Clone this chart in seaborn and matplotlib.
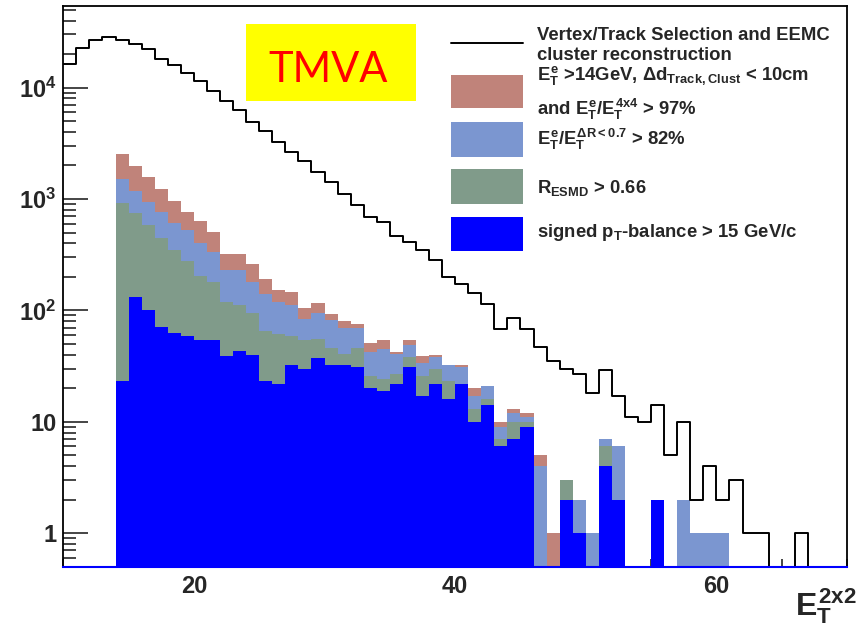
import numpy as np
import pandas as pd
import matplotlib
matplotlib.use("Agg")
import matplotlib.pyplot as plt
import seaborn as sns
from matplotlib.patches import Rectangle
from matplotlib.lines import Line2D
from matplotlib.ticker import FixedLocator, FuncFormatter, LogLocator, MultipleLocator, NullFormatter

# ---- data: 1 GeV bins from 10 to 70 GeV ----
bin_edges = list(range(10, 71))

# Vertex/Track selection and EEMC cluster reconstruction (bins 10..69)
n_all = [16400, 22600, 26500, 28400, 26900, 24800, 22100, 18200, 15800, 13400,
         11500, 9270, 7590, 6270, 4910, 4080, 3250, 2650, 2200, 1750,
         1410, 1110, 880, 688, 620, 470, 412, 347, 283, 200,
         172, 144, 115, 68, 86, 68, 47, 35, 30, 27,
         18, 29, 17, 11, 10, 14, 5, 10, 2, 4,
         2, 3, 1, 1, 0, 0, 1, 0, 0, 0]

# E_T^e > 14 GeV, track-cluster matching and 4x4 isolation
n_iso4x4 = [0, 0, 0, 0, 2520, 1970, 1580, 1220, 955, 766,
            632, 507, 324, 324, 260, 191, 152, 147, 104, 116,
            93, 81, 76, 51, 54, 42, 54, 39, 40, 32,
            32, 20, 21, 10, 13, 12, 5, 1, 3, 2,
            1, 7, 6, 0, 0, 2, 0, 2, 1, 1,
            1, 0, 0, 0, 0, 0, 0, 0, 0, 0]

# cone isolation E_T^e / E_T^{dR<0.7} > 82%
n_cone = [0, 0, 0, 0, 1496, 1183, 942, 766, 603, 525,
          399, 336, 230, 230, 178, 139, 119, 112, 84, 94,
          82, 69, 69, 42, 45, 41, 49, 34, 38, 32,
          31, 17, 21, 9, 12, 11, 4, 0, 3, 2,
          1, 7, 6, 0, 0, 2, 0, 2, 1, 1,
          1, 0, 0, 0, 0, 0, 0, 0, 0, 0]

# R_ESMD > 0.66
n_esmd = [0, 0, 0, 0, 922, 741, 582, 448, 347, 279,
          204, 178, 118, 112, 95, 65, 62, 59, 54, 55,
          46, 41, 46, 26, 24, 27, 38, 26, 30, 23,
          22, 13, 16, 7, 10, 10, 0, 0, 3, 1,
          0, 6, 2, 0, 0, 2, 0, 0, 0, 0,
          0, 0, 0, 0, 0, 0, 0, 0, 0, 0]

# signed pT-balance > 15 GeV/c
n_ptbal = [0, 0, 0, 0, 23, 131, 101, 71, 63, 59,
           54, 54, 39, 43, 40, 23, 22, 32, 30, 37,
           32, 32, 31, 20, 19, 22, 31, 17, 22, 16,
           22, 10, 14, 6, 7, 9, 0, 0, 2, 1,
           0, 4, 2, 0, 0, 2, 0, 0, 0, 0,
           0, 0, 0, 0, 0, 0, 0, 0, 0, 0]

tick_values = [1, 10, 100, 1000, 10000]

col_brown = "#c0837a"
col_lblue = "#7b96d0"
col_green = "#809b8a"
col_blue = "#0000ff"

centers = np.array(bin_edges[:-1]) + 0.5
df = pd.DataFrame({"et": centers, "all": n_all, "iso": n_iso4x4,
                   "cone": n_cone, "esmd": n_esmd, "ptbal": n_ptbal})

# ---- style ----
sns.set_style("ticks")
plt.rcParams["font.family"] = ["Liberation Sans", "DejaVu Sans"]
plt.rcParams["font.weight"] = "bold"
plt.rcParams["mathtext.fontset"] = "custom"
plt.rcParams["mathtext.rm"] = "Liberation Sans:bold"
plt.rcParams["mathtext.it"] = "Liberation Sans:bold"
plt.rcParams["mathtext.bf"] = "Liberation Sans:bold"
plt.rcParams["mathtext.sf"] = "Liberation Sans:bold"

W, H = 859, 627
fig = plt.figure(figsize=(W / 100, H / 100), dpi=100)
L, R, T, B = 63.3, 847.0, 6.0, 566.7
ax = fig.add_axes([L / W, 1 - B / H, (R - L) / W, (B - T) / H])

# overlaid filled histograms, loosest selection first
for col, c in [("iso", col_brown), ("cone", col_lblue), ("esmd", col_green), ("ptbal", col_blue)]:
    sns.histplot(data=df, x="et", weights=col, bins=bin_edges, element="step",
                 fill=True, color=c, alpha=1, linewidth=0, ax=ax)

sns.histplot(data=df, x="et", weights="all", bins=bin_edges, element="step",
             fill=False, color="black", linewidth=1.4, ax=ax)

ax.set_yscale("log")
ax.set_xlim(10, 70)
ax.set_ylim(0.5, 5.4e4)
ax.set_xlabel("")
ax.set_ylabel("")
ax.set_axisbelow(True)

def fmt_y(v, pos):
    e = int(round(np.log10(v)))
    if e == 0:
        return "1"
    if e == 1:
        return "10"
    return r"$10^{%d}$" % e

ax.yaxis.set_major_locator(FixedLocator(tick_values))
ax.yaxis.set_major_formatter(FuncFormatter(fmt_y))
ax.yaxis.set_minor_locator(LogLocator(base=10, subs=np.arange(2, 10), numticks=30))
ax.yaxis.set_minor_formatter(NullFormatter())
ax.xaxis.set_major_locator(MultipleLocator(20))
ax.xaxis.set_minor_locator(MultipleLocator(5))

ax.tick_params(axis="y", which="major", direction="in", length=18, width=1.2,
               labelsize=17, pad=5)
ax.tick_params(axis="y", which="minor", direction="in", length=9.5, width=1.2)
ax.tick_params(axis="x", which="major", direction="in", length=14, width=1.2,
               labelsize=17, pad=6)
ax.tick_params(axis="x", which="minor", direction="in", length=6, width=1.2)

for s in ["left", "top", "right"]:
    ax.spines[s].set_color("black")
    ax.spines[s].set_linewidth(1.3)
ax.spines["bottom"].set_color(col_blue)
ax.spines["bottom"].set_linewidth(1.5)

# ---- helpers in pixel space (y from top) ----
def fx(x):
    return x / W

def fy(y):
    return 1 - y / H

# TMVA tag
fig.add_artist(Rectangle((fx(246), fy(101)), (416 - 246) / W, (101 - 24) / H,
                         transform=fig.transFigure, facecolor="#ffff00",
                         edgecolor="none", zorder=5))
fig.text(fx(328), fy(82), "TMVA", color="#ff0000", fontsize=30,
         fontfamily="Lato", fontweight="normal", ha="center", va="baseline", zorder=6)

# ---- legend ----
fig.add_artist(Line2D([fx(451), fx(523)], [fy(43), fy(43)], color="black",
                      linewidth=1.4, transform=fig.transFigure, zorder=5))
for (y0, y1), c in [((75, 108), col_brown), ((122, 157), col_lblue),
                    ((169, 204), col_green), ((217, 251), col_blue)]:
    fig.add_artist(Rectangle((fx(451), fy(y1)), (523 - 451) / W, (y1 - y0) / H,
                             transform=fig.transFigure, facecolor=c,
                             edgecolor="none", zorder=5))

leg_fs = 13.3
leg_lines = [
    (39.5, "Vertex/Track Selection and EEMC"),
    (60, "cluster reconstruction"),
    (80, r"$E_T^e$ >14GeV, $\Delta d_{Track,Clust}$ < 10cm"),
    (115, r"and $E_T^e/E_T^{4x4}$ > 97%"),
    (145, r"$E_T^e/E_T^{\Delta R<0.7}$ > 82%"),
    (193, r"$R_{ESMD}$ > 0.66"),
    (236.5, r"signed $p_T$-balance > 15 GeV/c"),
]
for yb, s in leg_lines:
    fig.text(fx(537), fy(yb), s, fontsize=leg_fs, fontweight="bold",
             ha="left", va="baseline", zorder=6)

# x-axis title
fig.text(fx(857), fy(615), r"$E_T^{2x2}$", fontsize=23, ha="right", va="baseline")

fig.savefig("out.png", dpi=100)
